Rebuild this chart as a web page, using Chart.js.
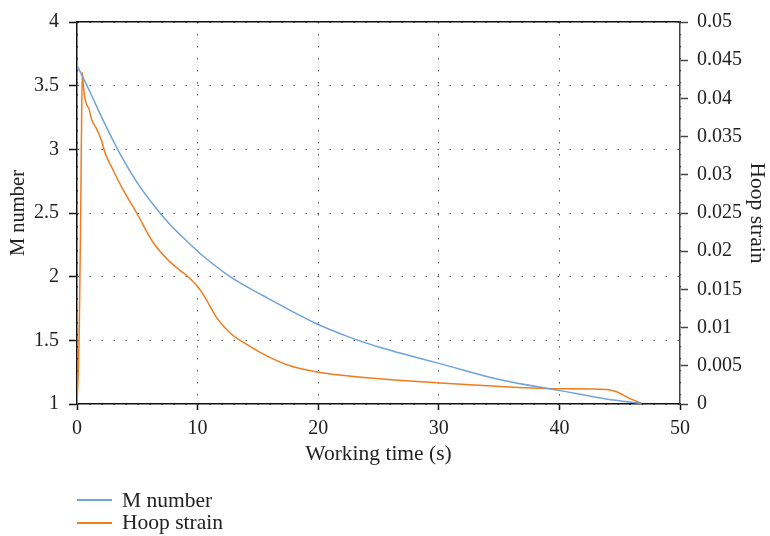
<!DOCTYPE html>
<html>
<head>
<meta charset="utf-8">
<script src="https://cdn.jsdelivr.net/npm/chart.js@4"></script>
<style>
  html, body { margin: 0; padding: 0; background: #fff; }
  #wrap { position: relative; width: 770px; height: 536px; }
  #legend { position: absolute; left: 77px; top: 489px; font: 21.5px "Liberation Serif", serif; color: #222; }
  #legend div { display: flex; align-items: center; height: 22.5px; }
  #legend span.ln { display: inline-block; width: 35px; height: 2px; margin-right: 10px; }
</style>
</head>
<body>
<div id="wrap">
  <canvas id="myChart" width="770" height="536"></canvas>
  <div id="legend"></div>
</div>
<script>
// data
const timeM = [0, 1.08, 2.18, 3.57, 4.95, 6.33, 7.71, 9.1, 10.48, 12.69, 15.45, 19.87, 22.36, 25.1, 26.78, 30.1, 35.1, 40.05, 43.9, 46.8];
const mNumber = [3.66, 3.45, 3.225, 2.965, 2.745, 2.565, 2.41, 2.28, 2.16, 2.0, 1.85, 1.63, 1.533, 1.445, 1.4, 1.317, 1.19, 1.105, 1.04, 1.005];

const timeStrain = [0, 0.1, 0.2, 0.3, 0.38, 0.44, 0.52, 0.66, 0.86, 1.02, 1.22, 1.63, 2.05, 2.32, 3.0, 3.84, 4.95, 6.33, 7.71, 8.54, 9.1, 9.93, 10.6, 11.58, 12.69, 14.07, 15.73, 17.66, 19.87, 22.36, 25.1, 30.1, 35.1, 40.05, 43.9, 44.75, 45.85, 46.8];
const hoopStrain = [0, 0.004, 0.011, 0.024, 0.037, 0.0434, 0.0418, 0.04, 0.039, 0.0385, 0.0372, 0.036, 0.0344, 0.0329, 0.0306, 0.028, 0.025, 0.0211, 0.0186, 0.0175, 0.0168, 0.0155, 0.014, 0.0113, 0.0093, 0.0078, 0.0063, 0.005, 0.0042, 0.0037, 0.0033, 0.00275, 0.0023, 0.002, 0.0019, 0.0016, 0.0007, 0.0001];

const xTicks = [0, 10, 20, 30, 40, 50];
const mTicks = [1, 1.5, 2, 2.5, 3, 3.5, 4];
const strainTicks = [0, 0.005, 0.01, 0.015, 0.02, 0.025, 0.03, 0.035, 0.04, 0.045, 0.05];

const serif = "'Liberation Serif', 'DejaVu Serif', serif";
const txt = "#222";
const plain = (v) => String(parseFloat(Number(v).toFixed(4)));

{
  const ctx = document.getElementById("myChart");

  const chart = new Chart(ctx, {
    type: "line",
    data: {
      datasets: [
        {
          label: "M number",
          data: timeM.map((t, i) => ({ x: t, y: mNumber[i] })),
          borderColor: "#6fa3dc",
          borderWidth: 1.5,
          pointRadius: 0,
          cubicInterpolationMode: "monotone",
          yAxisID: "y",
        },
        {
          label: "Hoop strain",
          data: timeStrain.map((t, i) => ({ x: t, y: hoopStrain[i] })),
          borderColor: "#f07c1e",
          borderWidth: 1.5,
          pointRadius: 0,
          cubicInterpolationMode: "monotone",
          yAxisID: "y1",
        },
      ],
    },
    options: {
      responsive: false,
      animation: false,
      layout: { padding: { left: 0, right: 0, top: 0, bottom: 66 } },
      scales: {
        x: {
          type: "linear",
          position: "bottom",
          min: 0,
          max: 50,
          afterFit: (s) => { s.height = 66; },
          afterBuildTicks: (s) => { s.ticks = xTicks.map((v) => ({ value: v })); },
          border: { display: true, color: "#111", width: 1.5, dash: [1.5, 10.5] },
          grid: { color: "#555", lineWidth: 1, tickLength: 6, tickColor: "#111", tickWidth: 1.5 },
          ticks: { padding: 7, color: txt, font: { family: serif, size: 20 }, maxRotation: 0, callback: plain },
          title: { display: true, text: "Working time (s)", color: txt, font: { family: serif, size: 21.5 }, padding: { top: 0, bottom: 3 } },
        },
        x2: {
          type: "linear",
          position: "top",
          min: 0,
          max: 50,
          afterFit: (s) => { s.height = 16; },
          border: { display: true, color: "#111", width: 1.5 },
          grid: { display: false },
          ticks: { display: false },
        },
        y: {
          type: "linear",
          position: "left",
          min: 1,
          max: 4,
          afterFit: (s) => { s.width = 77; },
          afterBuildTicks: (s) => { s.ticks = mTicks.map((v) => ({ value: v })); },
          border: { display: true, color: "#111", width: 1.5, dash: [1.5, 10.5] },
          grid: { color: "#555", lineWidth: 1, tickLength: 8, tickColor: "#111", tickWidth: 1.5 },
          ticks: { padding: 10, color: txt, font: { family: serif, size: 20 }, callback: plain },
          title: { display: true, text: "M number", color: txt, font: { family: serif, size: 20.5 }, padding: { top: 6, bottom: 0 } },
        },
        y1: {
          type: "linear",
          position: "right",
          min: 0,
          max: 0.05,
          afterFit: (s) => { s.width = 90; },
          afterBuildTicks: (s) => { s.ticks = strainTicks.map((v) => ({ value: v })); },
          border: { display: true, color: "#444", width: 1.5 },
          grid: { drawOnChartArea: false, tickLength: 8, tickColor: "#444", tickWidth: 1.5 },
          ticks: { padding: 9, color: txt, font: { family: serif, size: 20 }, callback: plain },
          title: { display: true, text: "Hoop strain", color: txt, font: { family: serif, size: 21.5 }, padding: { top: 0, bottom: 0 } },
        },
      },
      plugins: {
        legend: { display: false },
        tooltip: { enabled: false },
      },
    },
  });

  // legend below the chart, built from the datasets
  const legend = document.getElementById("legend");
  chart.data.datasets.forEach((ds) => {
    const row = document.createElement("div");
    row.innerHTML = '<span class="ln" style="background:' + ds.borderColor + '"></span>' + ds.label;
    legend.appendChild(row);
  });
}
</script>
</body>
</html>
